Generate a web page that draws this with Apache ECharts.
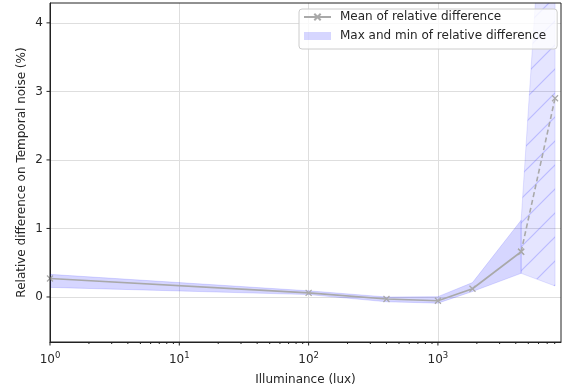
<!DOCTYPE html>
<html><head><meta charset="utf-8">
<script src="https://cdn.jsdelivr.net/npm/echarts@6/dist/echarts.min.js"></script>
<style>html,body{margin:0;padding:0;background:#fff}#c{width:571px;height:387px}</style>
</head><body><div id="c"></div>
<script>
// ---- data ----
const lux = [1, 100, 400, 1000, 1850, 4400];
const meanDiff = [0.27, 0.06, -0.03, -0.055, 0.12, 0.66];
const bandMax = [0.33, 0.09, 0.0, 0.005, 0.21, 1.12];
const bandMin = [0.14, 0.035, -0.07, -0.09, 0.08, 0.345];
const extLux = [4400, 8050];
const extMean = [0.66, 2.9];
const extMax = [1.12, 8.7];
const extMin = [0.345, 0.16];
const xMajorTicks = [1, 10, 100, 1000];
const xMinorTicks = [2,3,4,5,6,7,8,9,20,30,40,50,60,70,80,90,200,300,400,500,600,700,800,900,2000,3000,4000,5000,6000,7000,8000];
const yTicks = [0, 1, 2, 3, 4];
const xMin = 1, xMax = 8950, yMin = -0.657, yMax = 4.29;

const FONT = 'DejaVu Sans';
const TXT = '#262626';
const GRAY = '#a9a9a9';

function hatch() {
  const s = 24, c = document.createElement('canvas');
  c.width = s; c.height = s;
  const g = c.getContext('2d');
  g.strokeStyle = 'rgba(90,90,255,0.3)';
  g.lineWidth = 1.2;
  g.beginPath();
  g.moveTo(0, s); g.lineTo(s, 0);
  g.moveTo(-2, 2); g.lineTo(2, -2);
  g.moveTo(s - 2, s + 2); g.lineTo(s + 2, s - 2);
  g.stroke();
  return c;
}
const hatchImg = hatch();

function bandItem(xs, hi, lo) {
  return function (params, api) {
    const pts = [];
    for (let i = 0; i < xs.length; i++) pts.push(api.coord([xs[i], hi[i]]));
    for (let i = xs.length - 1; i >= 0; i--) pts.push(api.coord([xs[i], lo[i]]));
    return pts;
  };
}
const mainPts = bandItem(lux, bandMax, bandMin);
const extPts = bandItem(extLux, extMax, extMin);

function tickSeries(vals, axis, len) {
  return {
    type: 'custom', silent: true, clip: false, z: 5,
    data: vals.map(v => axis === 'x' ? [v, yMin] : [xMin, v]),
    renderItem(params, api) {
      const p = api.coord([api.value(0), api.value(1)]);
      const shape = axis === 'x'
        ? { x1: p[0], y1: p[1], x2: p[0], y2: p[1] + len }
        : { x1: p[0], y1: p[1], x2: p[0] - len, y2: p[1] };
      return { type: 'line', shape, style: { stroke: '#222', lineWidth: 1 } };
    }
  };
}

const xSymbol = 'path://M0,0L10,10M0,10L10,0';

const chart = echarts.init(document.getElementById('c'), null, { renderer: 'canvas' });
chart.setOption({
  animation: false,
  backgroundColor: '#fff',
  textStyle: { fontFamily: FONT },
  grid: { left: 50, right: 10, top: 3, bottom: 45, containLabel: false, outerBoundsMode: 'none', show: true, borderColor: '#222', borderWidth: 1, backgroundColor: 'transparent', z: 4 },
  legend: {
    left: 299, top: 9, orient: 'vertical',
    data: ['Mean of relative difference', { name: 'Max and min of relative difference', icon: 'rect' }],
    itemWidth: 27, itemHeight: 8, itemGap: 5,
    padding: [1, 11, 6, 4],
    backgroundColor: 'rgba(255,255,255,0.8)', borderColor: '#cccccc', borderWidth: 1, borderRadius: 3,
    textStyle: { fontFamily: FONT, fontSize: 12, color: TXT, lineHeight: 14, padding: [0, 0, 0, 4] },
    selectedMode: false, z: 20
  },
  xAxis: {
    type: 'log', logBase: 10, min: xMin, max: xMax,
    name: 'Illuminance (lux)', nameLocation: 'middle', nameGap: 32, nameMoveOverlap: false,
    nameTextStyle: { fontFamily: FONT, fontSize: 12, color: TXT },
    axisLine: { show: true, onZero: false, lineStyle: { color: '#222', width: 1 } },
    axisTick: { show: false },
    axisLabel: {
      margin: 9, color: TXT,
      formatter: function (v) {
        const e = Math.round(Math.log10(v));
        if (Math.abs(v - Math.pow(10, e)) > 1e-6 * v) return '';
        return '{b|10}{s|' + e + '}';
      },
      rich: {
        b: { fontFamily: FONT, fontSize: 12, color: TXT, verticalAlign: 'bottom' },
        s: { fontFamily: FONT, fontSize: 8.5, color: TXT, verticalAlign: 'bottom', padding: [0, 0, 6, 0] }
      }
    },
    splitLine: { show: true, showMinLine: false, showMaxLine: false, lineStyle: { color: '#dedede', width: 1 } }
  },
  yAxis: {
    type: 'value', min: yMin, max: yMax, splitNumber: 5,
    name: 'Relative difference on Temporal noise (%)', nameLocation: 'middle', nameGap: 22, nameMoveOverlap: false,
    nameTextStyle: { fontFamily: FONT, fontSize: 12, color: TXT },
    axisLine: { show: true, onZero: false, lineStyle: { color: '#222', width: 1 } },
    axisTick: { show: false },
    axisLabel: {
      margin: 7, color: TXT, fontFamily: FONT, fontSize: 12,
      formatter: v => (yTicks.indexOf(Math.round(v)) >= 0 && Math.abs(v - Math.round(v)) < 1e-9) ? String(Math.round(v)) : ''
    },
    splitLine: { show: true, showMinLine: false, showMaxLine: false, lineStyle: { color: '#dedede', width: 1 } }
  },
  series: [
    {
      name: 'Max and min of relative difference', type: 'custom', clip: true, silent: true, z: 2,
      itemStyle: { color: 'rgba(0,0,255,0.16)' },
      data: [[lux[0], bandMin[0]]],
      renderItem(params, api) {
        return { type: 'polygon', shape: { points: mainPts(params, api) }, style: { fill: 'rgba(0,0,255,0.16)', stroke: 'rgba(0,0,255,0.12)', lineWidth: 1 } };
      }
    },
    {
      name: 'hatched', type: 'custom', clip: true, silent: true, z: 2,
      data: [[extLux[0], extMin[0]]],
      renderItem(params, api) {
        const pts = extPts(params, api);
        return {
          type: 'group', children: [
            { type: 'polygon', shape: { points: pts }, style: { fill: 'rgba(0,0,255,0.1)', stroke: 'rgba(0,0,255,0.1)', lineWidth: 1 } },
            { type: 'polygon', shape: { points: pts }, style: { fill: { image: hatchImg, repeat: 'repeat' } } }
          ]
        };
      }
    },
    {
      name: 'Mean of relative difference', type: 'line', z: 3,
      data: lux.map((x, i) => [x, meanDiff[i]]),
      symbol: xSymbol, symbolSize: 6, showSymbol: true,
      lineStyle: { color: GRAY, width: 1.6 },
      itemStyle: { color: GRAY, borderColor: GRAY, borderWidth: 1.2 }
    },
    {
      name: 'Mean ext', type: 'line', z: 3,
      data: extLux.map((x, i) => [x, extMean[i]]),
      symbol: xSymbol, symbolSize: 6, showSymbol: true,
      lineStyle: { color: GRAY, width: 1.6, type: [5, 3] },
      itemStyle: { color: GRAY, borderColor: GRAY, borderWidth: 1.2 }
    },
    tickSeries(xMajorTicks, 'x', 3.5),
    tickSeries(xMinorTicks, 'x', 2),
    tickSeries(yTicks, 'y', 3.5)
  ]
});
</script></body></html>
